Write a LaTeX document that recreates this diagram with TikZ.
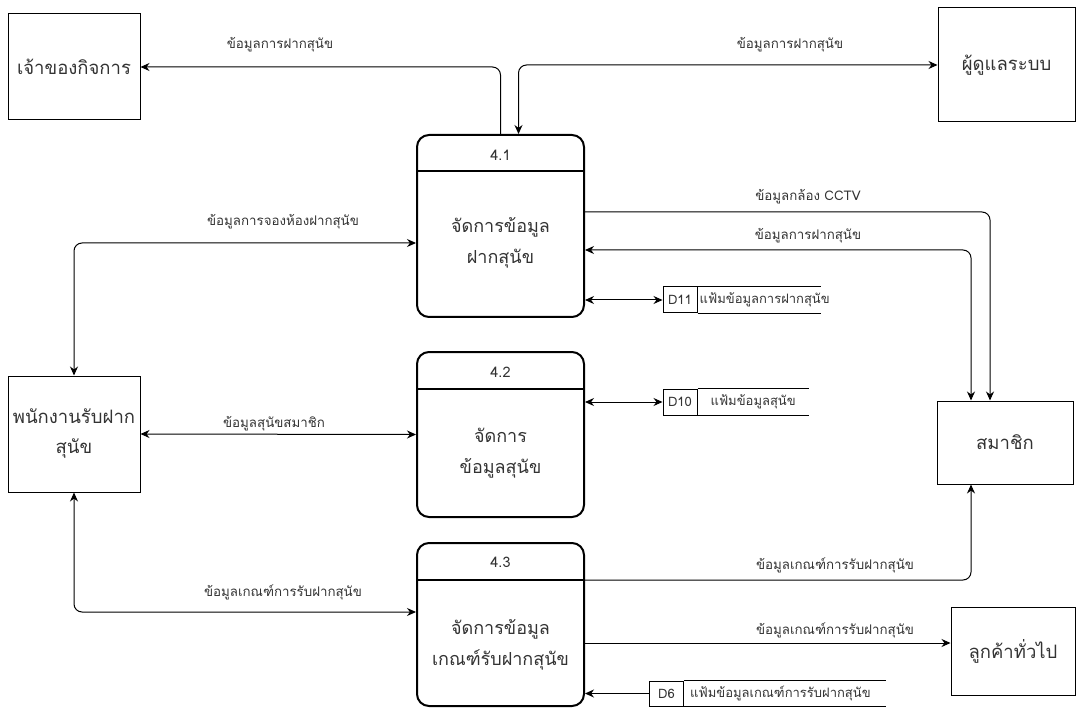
\documentclass[tikz,border=0pt]{standalone}
\usepackage{fontspec}
\setmainfont{Loma}[Script=Thai]
\usepackage{tikz}
\usetikzlibrary{arrows.meta,positioning,calc}
\definecolor{txtgray}{HTML}{333333}

\begin{document}
\begin{tikzpicture}
	[   x=1pt,y=-1pt,
		ent/.style={draw=black,line width=1pt,rectangle,minimum width=#1,font=\fontsize{18.5}{30}\selectfont,text=txtgray,align=center},
		proc/.style={draw=black,line width=2pt,rectangle,rounded corners=12pt,minimum width=167pt,minimum height=#1},
		pid/.style={font=\fontsize{14.5}{16}\selectfont,text=txtgray},
		ptxt/.style={font=\fontsize{18}{31}\selectfont,text=txtgray,align=center},
		idcell/.style={draw=black,line width=1pt,rectangle,minimum width=34pt,minimum height=26pt,inner sep=0pt,font=\fontsize{13}{15}\selectfont,text=txtgray},
		dsname/.style={anchor=west,inner sep=2pt,font=\fontsize{13}{15}\selectfont,text=txtgray},
		lbl/.style={font=\fontsize{13.3}{15}\selectfont,text=txtgray},
	]
	\tikzset{normal arrow/.style={draw,line width=1pt,rounded corners=8pt,-{Stealth[length=9pt,width=8pt]}},
		both arrow/.style={normal arrow,{Stealth[length=9pt,width=8pt]}-{Stealth[length=9pt,width=8pt]}}}
	\useasboundingbox (0,0) rectangle (1078,708);
	
	\node[ent=132pt,minimum height=106pt] (owner) at (74,67) {เจ้าของกิจการ};
	\node[ent=137pt,minimum height=114pt] (admin) at (1006.5,65) {ผู้ดูแลระบบ};
	\node[ent=132pt,minimum height=116pt] (staff) at (74,434) {พนักงานรับฝาก\\สุนัข};
	\node[ent=136pt,minimum height=83pt] (member) at (1005,442.5) {สมาชิก};
	\node[ent=124pt,minimum height=88pt] (cust) at (1013,651) {ลูกค้าทั่วไป};
	
	\node[proc=182pt] (p1) at (500.5,226) {};
	\node[proc=165pt] (p2) at (500.5,434.5) {};
	\node[proc=163pt] (p3) at (500.5,624.5) {};
	\draw[line width=2pt] ([yshift=-37pt]p1.north west) -- ([yshift=-37pt]p1.north east);
	\draw[line width=2pt] ([yshift=-38pt]p2.north west) -- ([yshift=-38pt]p2.north east);
	\draw[line width=2pt] ([yshift=-38pt]p3.north west) -- ([yshift=-38pt]p3.north east);
	
	\node[pid] (p1-id) at (500.5,155) {4.1};
	\node[pid] (p2-id) at (500.5,372) {4.2};
	\node[pid] (p3-id) at (500.5,562) {4.3};
	\node[ptxt] (p1-txt) at (500.5,243) {จัดการข้อมูล\\ฝากสุนัข};
	\node[ptxt] (p2-txt) at (500.5,453) {จัดการ\\ข้อมูลสุนัข};
	\node[ptxt] (p3-txt) at (500.5,645) {จัดการข้อมูล\\เกณฑ์รับฝากสุนัข};
	
	% data stores
	\node[idcell] (d11) at (680,300) {D11};
	\node[dsname] (d11-n) at (d11.east) {แฟ้มข้อมูลการฝากสุนัข};
	\draw[line width=1pt] (d11.north east) -- ++(123,0);
	\draw[line width=1pt] (d11.south east) -- ++(123,0);
	
	\node[idcell] (d10) at (680,402) {D10};
	\node[dsname,minimum width=111pt] (d10-n) at (d10.east) {แฟ้มข้อมูลสุนัข};
	\draw[line width=1pt] (d10.north east) -- ++(111,0);
	\draw[line width=1pt] (d10.south east) -- ++(111,0);
	
	\node[idcell,minimum height=25pt] (d6) at (666.5,693.5) {D6};
	\node[dsname] (d6-n) at ([xshift=4pt]d6.east) {แฟ้มข้อมูลเกณฑ์การรับฝากสุนัข};
	\draw[line width=1pt] (d6.north east) -- ++(202,0);
	\draw[line width=1pt] (d6.south east) -- ++(202,0);
	
	\coordinate (c643) at (0,643);
	
	\path[normal arrow] (p1.north) |- (owner.east);
	\node[lbl] at (280,45) {ข้อมูลการฝากสุนัข};
	\path[both arrow] ([xshift=18pt]p1.north) |- (admin.west);
	\node[lbl] at (790,45) {ข้อมูลการฝากสุนัข};
	\path[both arrow] ([yshift=-17pt]p1.west) -| (staff.north);
	\node[lbl] at (283,222) {ข้อมูลการจองห้องฝากสุนัข};
	\path[both arrow] (staff.east) -- (p2.west);
	\node[lbl] at (274,424) {ข้อมูลสุนัขสมาชิก};
	\path[both arrow] (staff.south) |- ([yshift=12.5pt]p3.west);
	\node[lbl] at (283,592) {ข้อมูลเกณฑ์การรับฝากสุนัข};
	
	\path[normal arrow] ([yshift=14pt]p1.east) -| ([xshift=-15pt]member.north);
	\node[lbl] at (808,197) {ข้อมูลกล้อง CCTV};
	\path[both arrow] ([yshift=-24pt]p1.east) -| ([xshift=-34pt]member.north);
	\node[lbl] at (808,236) {ข้อมูลการฝากสุนัข};
	\path[both arrow] (d11.west -| p1.east) -- (d11.west);
	\path[both arrow] (d10.west -| p2.east) -- (d10.west);
	
	\path[normal arrow] ([yshift=44.5pt]p3.east) -| ([xshift=-34pt]member.south);
	\node[lbl] at (835,565) {ข้อมูลเกณฑ์การรับฝากสุนัข};
	\path[normal arrow] (p3.east |- c643) -- (cust.west |- c643);
	\node[lbl] at (835,630) {ข้อมูลเกณฑ์การรับฝากสุนัข};
	\path[normal arrow] (d6.west) -- (d6.west -| p3.east);
\end{tikzpicture}
\end{document}
